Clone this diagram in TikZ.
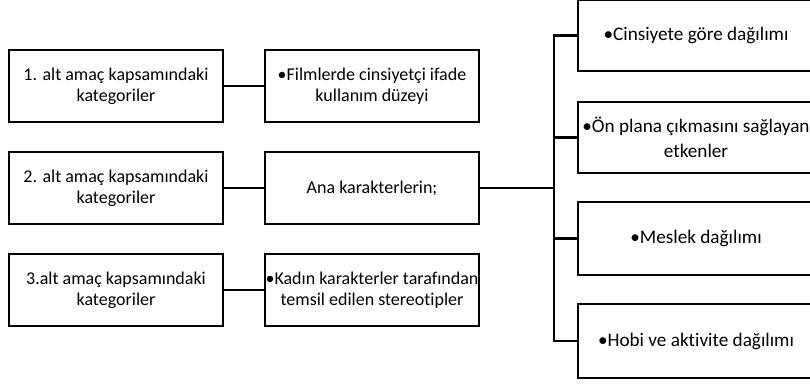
\documentclass[tikz,border=0pt]{standalone}
\usepackage{fontspec}
\setmainfont{Carlito}[Ligatures=NoCommon]
\begin{document}
\begin{tikzpicture}[x=1pt,y=-1pt,
  box/.style={draw=black, line width=2.2pt, rectangle, inner sep=0pt, align=center, text=black},
  lbox/.style={box, minimum width=214pt, minimum height=72pt, font=\fontsize{18}{21}\selectfont},
  rbox/.style={box, minimum width=236pt, minimum height=72pt, font=\fontsize{19.2}{25}\selectfont},
  conn/.style={draw=black, line width=2.2pt}]
\useasboundingbox (0,0) rectangle (810,383);
\clip (0,0) rectangle (810,383);
\fill[white] (0,0) rectangle (810,383);
% left column
\node[lbox] (L1) at (116,86) {1. alt amaç kapsamındaki\\kategoriler};
\node[lbox] (L2) at (116,188) {2. alt amaç kapsamındaki\\kategoriler};
\node[lbox] (L3) at (116,290) {3.alt amaç kapsamındaki\\kategoriler};
% middle column
\node[lbox] (M1) at (372,86) {•Filmlerde cinsiyetçi ifade\\kullanım düzeyi};
\node[lbox] (M2) at (372,188) {Ana karakterlerin;};
\node[lbox] (M3) at (372,290) {•Kadın karakterler tarafından\\temsil edilen stereotipler};
% right column
\node[rbox, minimum height=71pt] (RA) at (696,35.5) {•Cinsiyete göre dağılımı};
\node[rbox, minimum height=71pt] (RB) at (696,137.5) {•Ön plana çıkmasını sağlayan\\etkenler};
\node[rbox, minimum height=73pt] (RC) at (696,238.5) {•Meslek dağılımı};
\node[rbox, minimum height=74pt] (RD) at (696,341) {•Hobi ve aktivite dağılımı};
% connectors
\draw[conn] (L1) -- (M1);
\draw[conn] (L2) -- (M2);
\draw[conn] (L3) -- (M3);
\coordinate (bus) at (554,188);
\draw[conn] (M2) -- (bus);
\draw[conn] (RA.west) -| (bus) |- (RD.west);
\draw[conn] (RB.west) -- (RB.west -| bus);
\draw[conn] (RC.west) -- (RC.west -| bus);
\end{tikzpicture}
\end{document}
